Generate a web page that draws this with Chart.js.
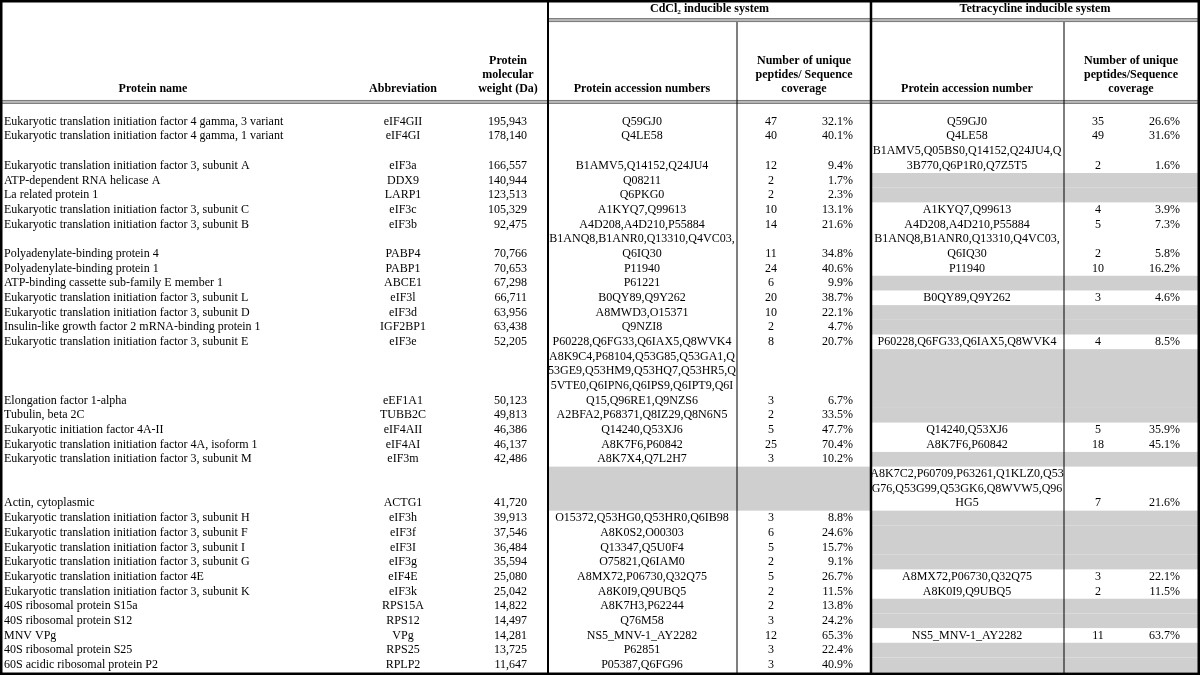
<!DOCTYPE html>
<html>
<head>
<meta charset="utf-8">
<title>Proteins co-purified with VPg</title>
<script src="https://cdn.jsdelivr.net/npm/chart.js@4.4.1/dist/chart.umd.min.js"></script>
<style>
    html, body { margin: 0; padding: 0; background: #fff; }
    #wrap { width: 1200px; height: 675px; }
</style>
</head>
<body>
<div id="wrap"><canvas id="table" width="1200" height="675"></canvas></div>
<script>
// ---- table data (one entry per protein row) ----
const proteinNames = [
    "Eukaryotic translation initiation factor 4 gamma, 3 variant",
    "Eukaryotic translation initiation factor 4 gamma, 1 variant",
    "Eukaryotic translation initiation factor 3, subunit A",
    "ATP-dependent RNA helicase A",
    "La related protein 1",
    "Eukaryotic translation initiation factor 3, subunit C",
    "Eukaryotic translation initiation factor 3, subunit B",
    "Polyadenylate-binding protein 4",
    "Polyadenylate-binding protein 1",
    "ATP-binding cassette sub-family E member 1",
    "Eukaryotic translation initiation factor 3, subunit L",
    "Eukaryotic translation initiation factor 3, subunit D",
    "Insulin-like growth factor 2 mRNA-binding protein 1",
    "Eukaryotic translation initiation factor 3, subunit E",
    "Elongation factor 1-alpha",
    "Tubulin, beta 2C",
    "Eukaryotic initiation factor 4A-II",
    "Eukaryotic translation initiation factor 4A, isoform 1",
    "Eukaryotic translation initiation factor 3, subunit M",
    "Actin, cytoplasmic",
    "Eukaryotic translation initiation factor 3, subunit H",
    "Eukaryotic translation initiation factor 3, subunit F",
    "Eukaryotic translation initiation factor 3, subunit I",
    "Eukaryotic translation initiation factor 3, subunit G",
    "Eukaryotic translation initiation factor 4E",
    "Eukaryotic translation initiation factor 3, subunit K",
    "40S ribosomal protein S15a",
    "40S ribosomal protein S12",
    "MNV VPg",
    "40S ribosomal protein S25",
    "60S acidic ribosomal protein P2"
];

const abbreviations = [
    "eIF4GII", "eIF4GI", "eIF3a", "DDX9", "LARP1", "eIF3c", "eIF3b", "PABP4", "PABP1", "ABCE1",
    "eIF3l", "eIF3d", "IGF2BP1", "eIF3e", "eEF1A1", "TUBB2C", "eIF4AII", "eIF4AI", "eIF3m", "ACTG1",
    "eIF3h", "eIF3f", "eIF3I", "eIF3g", "eIF4E", "eIF3k", "RPS15A", "RPS12", "VPg", "RPS25", "RPLP2"
];

const molecularWeights = [
    195943, 178140, 166557, 140944, 123513, 105329, 92475, 70766, 70653, 67298,
    66711, 63956, 63438, 52205, 50123, 49813, 46386, 46137, 42486, 41720,
    39913, 37546, 36484, 35594, 25080, 25042, 14822, 14497, 14281, 13725, 11647
];

// CdCl2 inducible system (null = not detected, grey cell)
const cdAccessions = [
    "Q59GJ0", "Q4LE58", "B1AMV5,Q14152,Q24JU4", "Q08211", "Q6PKG0", "A1KYQ7,Q99613",
    "A4D208,A4D210,P55884", "B1ANQ8,B1ANR0,Q13310,Q4VC03,\nQ6IQ30", "P11940", "P61221",
    "B0QY89,Q9Y262", "A8MWD3,O15371", "Q9NZI8", "P60228,Q6FG33,Q6IAX5,Q8WVK4",
    "A8K9C4,P68104,Q53G85,Q53GA1,Q\n53GE9,Q53HM9,Q53HQ7,Q53HR5,Q\n5VTE0,Q6IPN6,Q6IPS9,Q6IPT9,Q6I\nQ15,Q96RE1,Q9NZS6",
    "A2BFA2,P68371,Q8IZ29,Q8N6N5", "Q14240,Q53XJ6", "A8K7F6,P60842", "A8K7X4,Q7L2H7", null,
    "O15372,Q53HG0,Q53HR0,Q6IB98", "A8K0S2,O00303", "Q13347,Q5U0F4", "O75821,Q6IAM0",
    "A8MX72,P06730,Q32Q75", "A8K0I9,Q9UBQ5", "A8K7H3,P62244", "Q76M58", "NS5_MNV-1_AY2282",
    "P62851", "P05387,Q6FG96"
];
const cdPeptides = [47, 40, 12, 2, 2, 10, 14, 11, 24, 6, 20, 10, 2, 8, 3, 2, 5, 25, 3, null, 3, 6, 5, 2, 5, 2, 2, 3, 12, 3, 3];
const cdCoverage = [32.1, 40.1, 9.4, 1.7, 2.3, 13.1, 21.6, 34.8, 40.6, 9.9, 38.7, 22.1, 4.7, 20.7, 6.7, 33.5, 47.7, 70.4, 10.2, null,
    8.8, 24.6, 15.7, 9.1, 26.7, 11.5, 13.8, 24.2, 65.3, 22.4, 40.9];

// Tetracycline inducible system
const tetAccessions = [
    "Q59GJ0", "Q4LE58", "B1AMV5,Q05BS0,Q14152,Q24JU4,Q\n3B770,Q6P1R0,Q7Z5T5", null, null, "A1KYQ7,Q99613",
    "A4D208,A4D210,P55884", "B1ANQ8,B1ANR0,Q13310,Q4VC03,\nQ6IQ30", "P11940", null,
    "B0QY89,Q9Y262", null, null, "P60228,Q6FG33,Q6IAX5,Q8WVK4", null, null, "Q14240,Q53XJ6", "A8K7F6,P60842", null,
    "A8K7C2,P60709,P63261,Q1KLZ0,Q53\nG76,Q53G99,Q53GK6,Q8WVW5,Q96\nHG5",
    null, null, null, null, "A8MX72,P06730,Q32Q75", "A8K0I9,Q9UBQ5", null, null, "NS5_MNV-1_AY2282", null, null
];
const tetPeptides = [35, 49, 2, null, null, 4, 5, 2, 10, null, 3, null, null, 4, null, null, 5, 18, null, 7,
    null, null, null, null, 3, 2, null, null, 11, null, null];
const tetCoverage = [26.6, 31.6, 1.6, null, null, 3.9, 7.3, 5.8, 16.2, null, 4.6, null, null, 8.5, null, null, 35.9, 45.1, null, 21.6,
    null, null, null, null, 22.1, 11.5, null, null, 63.7, null, null];

// ---- layout (x in page units, y in text-line units; 0 = top of table body) ----
const FONT_FAMILY = '"Liberation Serif", "Times New Roman", serif';
const BODY_FONT = `12px ${FONT_FAMILY}`;
const HEAD_FONT = `bold 12px ${FONT_FAMILY}`;
const GREY = "#cfcfcf";

const edges = { left: 0, cdStart: 548, cdSplit: 737, groupSplit: 871, tetSplit: 1064, right: 1199 };
const colX = { name: 4, abbr: 403, mw: 527, cdAcc: 642, cdPep: 771, cdCov: 853, tetAcc: 967, tetPep: 1098, tetCov: 1180 };

const Y_MIN = -7.786;
const Y_MAX = 38.195;
const groupTitleY = -7.17;
const groupRuleY = -6.42;
const headRuleY = -0.84;
const headLastLineY = -1.72;
const headLineStep = 0.95;

// number of text lines every row needs (the longest wrapped cell wins)
const lineCount = (text) => (text ? text.split("\n").length : 1);
const rowLines = proteinNames.map((_, i) => Math.max(lineCount(cdAccessions[i]), lineCount(tetAccessions[i])));
const rowStart = [];
rowLines.reduce((acc, n, i) => { rowStart[i] = acc; return acc + n; }, 0);

const headers = [
    { x: 153, lines: ["Protein name"] },
    { x: 403, lines: ["Abbreviation"] },
    { x: 508, lines: ["Protein", "molecular", "weight (Da)"] },
    { x: 642, lines: ["Protein accession numbers"] },
    { x: 804, lines: ["Number of unique", "peptides/ Sequence", "coverage"] },
    { x: 967, lines: ["Protein accession number"] },
    { x: 1131, lines: ["Number of unique", "peptides/Sequence", "coverage"] }
];
const groupTitles = [
    { from: edges.cdStart, to: edges.groupSplit, text: "CdCl\u2082 inducible system" },
    { from: edges.groupSplit, to: edges.right, text: "Tetracycline inducible system" }
];

const fmtCoverage = (v) => (v === null ? "" : `${v.toFixed(1)}%`);
const fmtWeight = (v) => v.toLocaleString("en-US");

/**
 * Draws the whole table on the chart area, positioned through the x / y scales.
 */
const tablePlugin = {
    id: "tablePlugin",
    beforeDatasetsDraw(chart) {
        const { ctx, scales: { x, y } } = chart;
        const px = (v) => x.getPixelForValue(v);
        const py = (v) => y.getPixelForValue(v);

        ctx.save();
        ctx.fillStyle = "#fff";
        ctx.fillRect(0, 0, chart.width, chart.height);

        // grey cells where a system found nothing
        ctx.fillStyle = GREY;
        proteinNames.forEach((_, i) => {
            const top = py(rowStart[i]);
            const bottom = py(rowStart[i] + rowLines[i]);
            if (cdAccessions[i] === null) {
                ctx.fillRect(px(edges.cdStart), top, px(edges.groupSplit) - px(edges.cdStart), bottom - top);
            }
            if (tetAccessions[i] === null) {
                ctx.fillRect(px(edges.groupSplit), top, px(edges.right) - px(edges.groupSplit), bottom - top);
            }
        });

        // rules
        const doubleRule = (x0, x1, yc) => {
            ctx.fillStyle = "#c4c4c4";
            ctx.fillRect(x0, yc - 2, x1 - x0, 4);
            ctx.fillStyle = "#7d7d7d";
            ctx.fillRect(x0, yc - 2, x1 - x0, 1.2);
            ctx.fillRect(x0, yc + 0.8, x1 - x0, 1.2);
        };
        doubleRule(px(edges.cdStart), px(edges.right), py(groupRuleY));
        doubleRule(px(edges.left), px(edges.right), py(headRuleY));

        ctx.fillStyle = "#000";
        const vRule = (xv, w, y0, y1) => ctx.fillRect(px(xv) - w / 2, y0, w, y1 - y0);
        vRule(edges.cdStart, 2, 0, chart.height);
        vRule(edges.groupSplit, 2.5, 0, chart.height);
        vRule(edges.cdSplit, 1, py(groupRuleY) + 2, chart.height);
        vRule(edges.tetSplit, 1, py(groupRuleY) + 2, chart.height);

        ctx.strokeStyle = "#000";
        ctx.lineWidth = 2.5;
        ctx.strokeRect(1.25, 1.25, chart.width - 2.5, chart.height - 2.5);

        // header text
        ctx.fillStyle = "#000";
        ctx.font = HEAD_FONT;
        ctx.textBaseline = "middle";
        ctx.textAlign = "center";
        groupTitles.forEach(g => ctx.fillText(g.text, (px(g.from) + px(g.to)) / 2, py(groupTitleY)));
        headers.forEach(h => {
            const n = h.lines.length;
            h.lines.forEach((line, j) => {
                ctx.fillText(line, px(h.x), py(headLastLineY - (n - 1 - j) * headLineStep));
            });
        });

        // body text, bottom aligned in each row
        ctx.font = BODY_FONT;
        const put = (text, xv, lineY, align) => {
            if (text === null || text === "") return;
            ctx.textAlign = align;
            ctx.fillText(String(text), px(xv), py(lineY));
        };
        proteinNames.forEach((name, i) => {
            const lastY = rowStart[i] + rowLines[i] - 0.5;
            put(name, colX.name, lastY, "left");
            put(abbreviations[i], colX.abbr, lastY, "center");
            put(fmtWeight(molecularWeights[i]), colX.mw, lastY, "right");

            [[cdAccessions[i], colX.cdAcc], [tetAccessions[i], colX.tetAcc]].forEach(([acc, cx]) => {
                if (!acc) return;
                const parts = acc.split("\n");
                parts.forEach((p, j) => put(p, cx, lastY - (parts.length - 1 - j), "center"));
            });

            put(cdPeptides[i], colX.cdPep, lastY, "center");
            put(fmtCoverage(cdCoverage[i]), colX.cdCov, lastY, "right");
            put(tetPeptides[i], colX.tetPep, lastY, "center");
            put(fmtCoverage(tetCoverage[i]), colX.tetCov, lastY, "right");
        });
        ctx.restore();
    }
};

new Chart(document.getElementById("table"), {
    type: "scatter",
    data: { datasets: [{ data: [], pointRadius: 0 }] },
    options: {
        responsive: false,
        animation: false,
        devicePixelRatio: 1,
        events: [],
        layout: { padding: 0 },
        plugins: { legend: { display: false }, tooltip: { enabled: false } },
        scales: {
            x: { type: "linear", min: 0, max: 1200, display: false },
            y: { type: "linear", min: Y_MIN, max: Y_MAX, reverse: true, display: false }
        }
    },
    plugins: [tablePlugin]
});
</script>
</body>
</html>
